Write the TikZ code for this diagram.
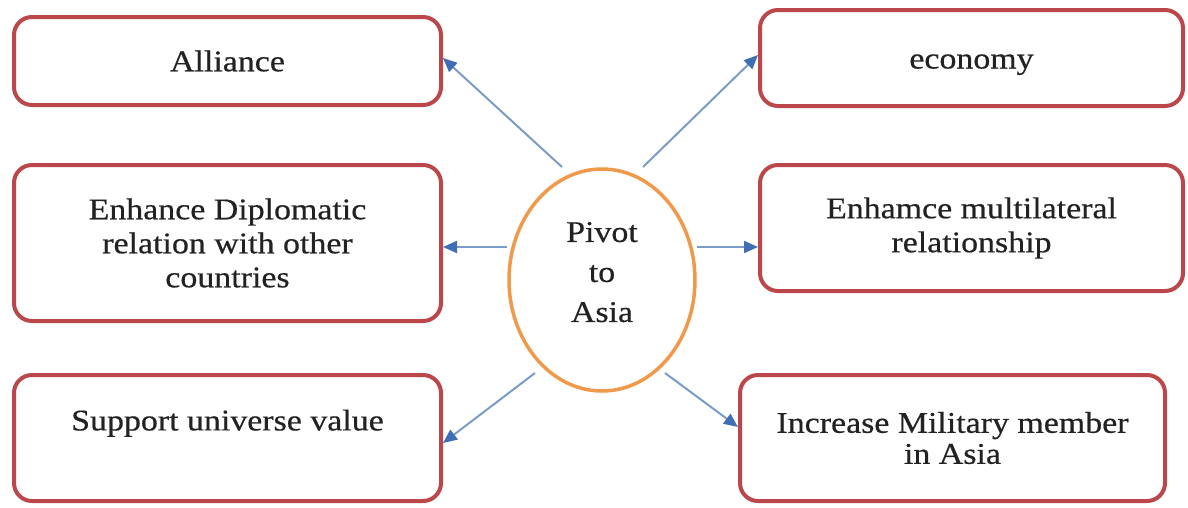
\documentclass[tikz,border=0pt]{standalone}
\usepackage{fontspec}
\setmainfont[FakeStretch=1.13,FakeBold=0.5]{Liberation Serif}
\usetikzlibrary{shapes.geometric,arrows.meta,calc}
\definecolor{boxred}{HTML}{BC474B}
\definecolor{ellorange}{HTML}{F0994A}
\definecolor{linkblue}{HTML}{7C9CC8}
\definecolor{tipblue}{HTML}{3F6EB4}
\definecolor{txt}{HTML}{222222}
\begin{document}
\begin{tikzpicture}[x=1pt,y=-1pt,
  box/.style={draw=boxred, line width=4pt, rounded corners=18pt, fill=white, align=center, text=txt, font=\fontsize{30}{34}\selectfont, inner sep=0pt},
  hub/.style={ellipse, draw=ellorange, line width=3.5pt, align=center, text=txt, font=\fontsize{30}{40}\selectfont, minimum width=186pt, minimum height=222pt, inner sep=0pt},
  link/.style={draw=linkblue, line width=2pt, -{Triangle[length=14pt,width=12pt,color=tipblue]}}]
\useasboundingbox[fill=white] (0,0) rectangle (1188,507);
\node[box, minimum width=427pt, minimum height=88pt] (all) at (227.5,61) {Alliance};
\node[box, minimum width=423pt, minimum height=96pt, text height=28pt, text depth=7pt] (eco) at (971.5,58) {economy};
\node[box, minimum width=427pt, minimum height=156pt] (dip) at (227.5,243) {Enhance Diplomatic\\relation with other\\countries};
\node[box, minimum width=423pt, minimum height=126pt] (mul) at (971.5,228) {Enhamce multilateral\\relationship};
\node[box, minimum width=427pt, minimum height=126pt, text depth=36pt] (sup) at (227.5,438) {Support universe value};
\node[box, minimum width=425pt, minimum height=126pt, font=\fontsize{30}{31}\selectfont] (mil) at (952.5,438) {Increase Military member\\in Asia};
\node[hub, text depth=16pt] (piv) at (602,280) {Pivot\\to\\Asia};
\coordinate (s1) at (562,167);
\coordinate (s2) at (643,167);
\coordinate (s3) at (507,247);
\coordinate (s4) at (697,247);
\coordinate (s5) at (535,373);
\coordinate (s6) at (665,373);
\draw[link] (s1) -- ($(all.east)+(0,-3)$);
\draw[link] (s2) -- ($(eco.west)+(0,-3)$);
\draw[link] (s3) -- ($(dip.east)+(0,4)$);
\draw[link] (s4) -- ($(mul.west)+(0,19)$);
\draw[link] (s5) -- ($(sup.east)+(0,5)$);
\draw[link] (s6) -- ($(mil.west)+(0,-11)$);
\end{tikzpicture}
\end{document}
